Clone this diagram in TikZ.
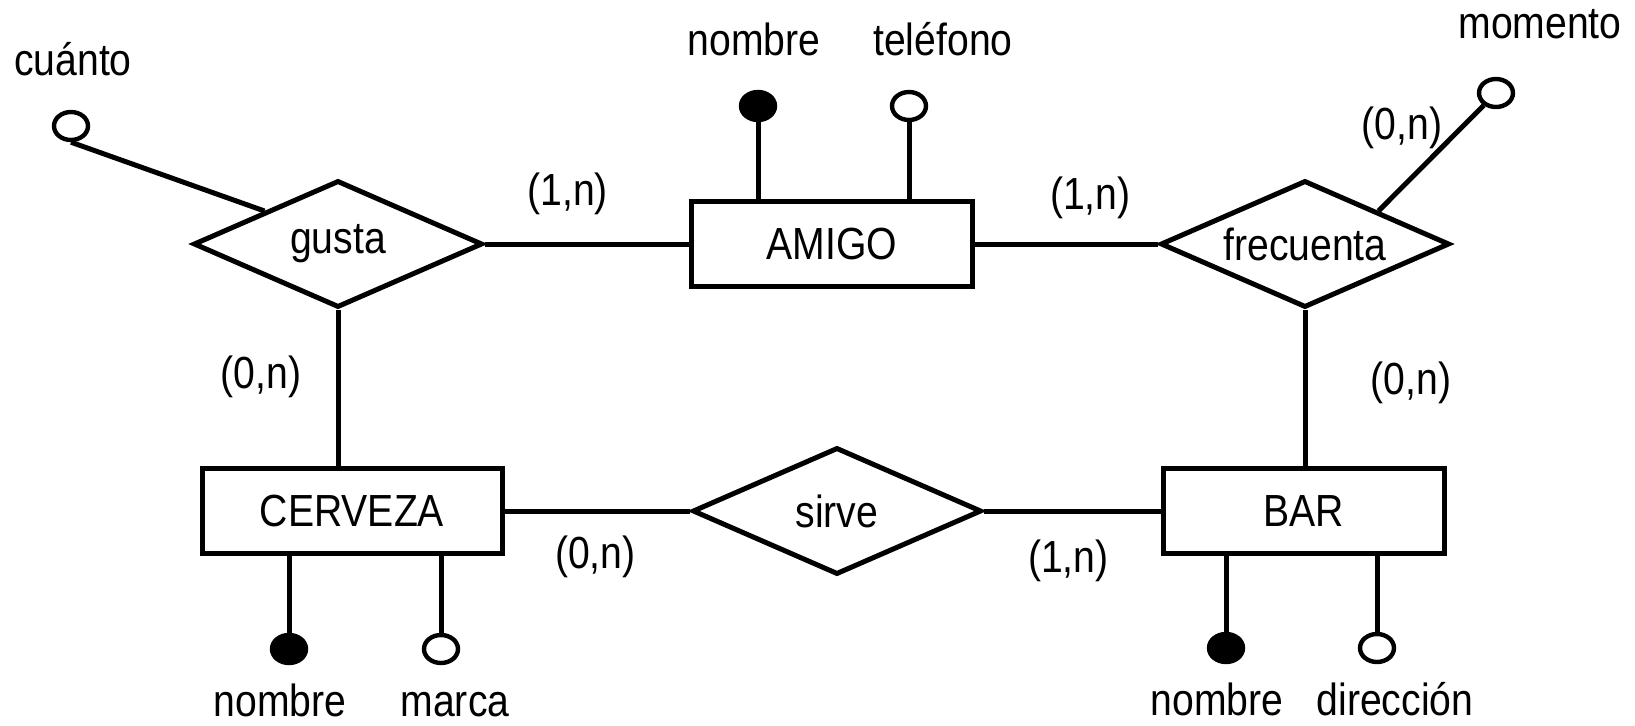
\documentclass[tikz,border=0pt]{standalone}
\usepackage{fontspec}
\setmainfont{Liberation Sans}[FakeStretch=0.87]
\usetikzlibrary{positioning,shapes.geometric}

\tikzset{
  entity/.style={on grid, draw, rectangle, line width=2.5pt, minimum width=140.5pt, minimum height=42.5pt, inner sep=0pt},
  relation/.style={on grid, draw, diamond, aspect=2.3, line width=2.5pt, minimum width=144.5pt, minimum height=63.5pt, inner sep=0pt},
  attr/.style={on grid, draw, ellipse, line width=2.2pt, minimum width=17pt, minimum height=14pt, inner sep=0pt, fill=white},
  keyattr/.style={attr, fill=black},
  lbl/.style={inner sep=0pt, text height=16pt, text depth=0pt},
  card/.style={inner sep=0pt}
}

\begin{document}
\begin{tikzpicture}[x=0.5pt, y=0.5pt, line width=2.5pt, font=\fontsize{22.5pt}{27pt}\selectfont]
  \useasboundingbox (0,0) rectangle (1635,725);
  % entidades y relaciones
  \node[relation] (gusta) at (338,481) {gusta};
  \node[entity]   (amigo) [right=247pt of gusta] {AMIGO};
  \node[relation] (frecuenta) [right=236.5pt of amigo] {frecuenta};
  \node[entity, minimum width=150pt] (cerveza) [below=133.5pt of gusta, xshift=7pt] {CERVEZA};
  \node[relation] (sirve) [right=242.5pt of cerveza] {sirve};
  \node[entity]   (bar) [right=233.5pt of sirve] {BAR};

  % atributos
  \node[keyattr] (amigoNombre) [above=69pt of amigo, xshift=-37pt] {};
  \node[attr]    (amigoTel) [above=69pt of amigo, xshift=38.5pt] {};
  \node[attr]    (cuanto) [above=59pt of gusta, xshift=-133.5pt] {};
  \node[attr]    (momento) [above=75.5pt of frecuenta, xshift=95.5pt] {};
  \node[keyattr] (cervNombre) [below=69pt of cerveza, xshift=-31.5pt] {};
  \node[attr]    (cervMarca) [below=69pt of cerveza, xshift=44.5pt] {};
  \node[keyattr] (barNombre) [below=68.5pt of bar, xshift=-39pt] {};
  \node[attr]    (barDir) [below=68.5pt of bar, xshift=36.5pt] {};

  \node[lbl] (amigoNombreTxt) [above=16pt of amigoNombre, xshift=-2pt] {nombre};
  \node[lbl] (amigoTelTxt) [above=16pt of amigoTel, xshift=17pt] {teléfono};
  \node[lbl] (cuantoTxt) [above=16pt of cuanto, xshift=1pt] {cuánto};
  \node[lbl] (momentoTxt) [above=18pt of momento, xshift=22pt] {momento};
  \node[lbl] (cervNombreTxt) [below=8.5pt of cervNombre, xshift=-4.5pt] {nombre};
  \node[lbl] (cervMarcaTxt) [below=8.5pt of cervMarca, xshift=7pt] {marca};
  \node[lbl] (barNombreTxt) [below=8.5pt of barNombre, xshift=-4.5pt] {nombre};
  \node[lbl] (barDirTxt) [below=8.5pt of barDir, xshift=9pt] {dirección};

  % conexiones
  \draw (gusta) -- node[card, pos=0.405, yshift=25pt] (c1) {(1,n)} (amigo);
  \draw (amigo) -- node[card, pos=0.63, yshift=23pt] (c2) {(1,n)} (frecuenta);
  \draw (cerveza) -- node[card, pos=0.49, yshift=-23pt] (c3) {(0,n)} (sirve);
  \draw (sirve) -- node[card, pos=0.476, yshift=-25pt] (c4) {(1,n)} (bar);
  \draw (gusta.south) -- node[card, pos=0.43, xshift=-38.5pt] (c5) {(0,n)} (gusta.south |- cerveza.north);
  \draw (frecuenta.south) -- node[card, pos=0.47, xshift=53pt] (c6) {(0,n)} (frecuenta.south |- bar.north);
  \draw (momento) -- node[card, pos=0.215, xshift=-29.5pt] (c7) {(0,n)} (frecuenta.north east);
  \draw (cuanto.south) -- (gusta.north west);
  \draw (amigoNombre) -- (amigoNombre |- amigo.north);
  \draw (amigoTel) -- (amigoTel |- amigo.north);
  \draw (cervNombre) -- (cervNombre |- cerveza.south);
  \draw (cervMarca) -- (cervMarca |- cerveza.south);
  \draw (barNombre) -- (barNombre |- bar.south);
  \draw (barDir) -- (barDir |- bar.south);
\end{tikzpicture}
\end{document}
